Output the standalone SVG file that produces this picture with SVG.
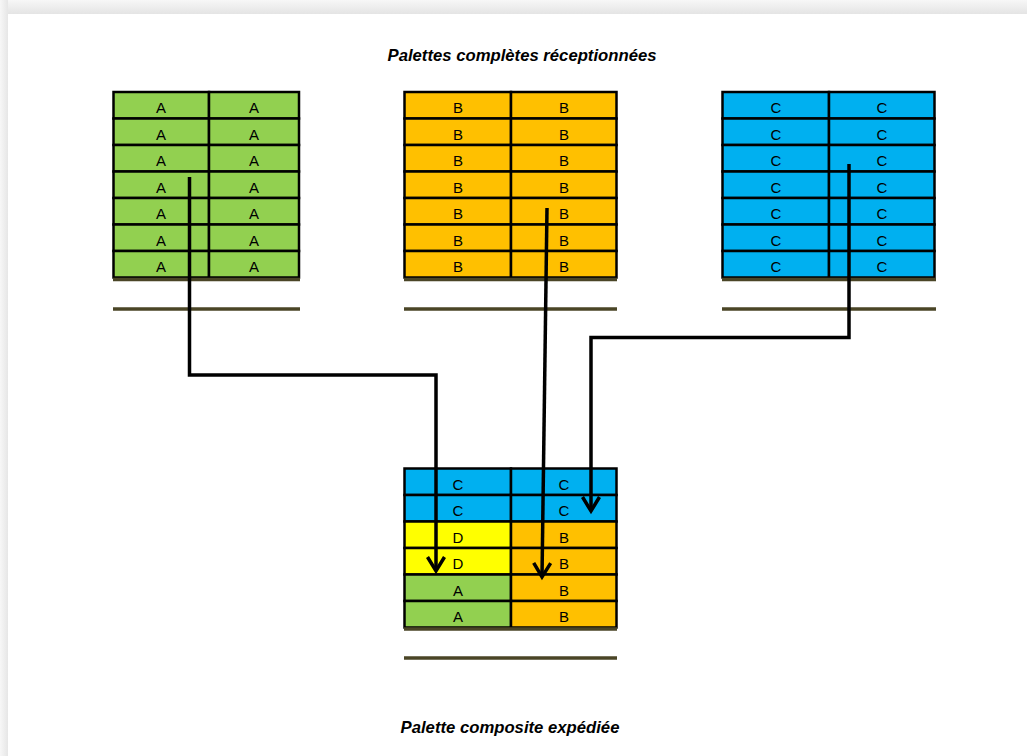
<svg xmlns="http://www.w3.org/2000/svg" width="1027" height="756" viewBox="0 0 1027 756">
<defs>
<linearGradient id="gTop" x1="0" y1="0" x2="0" y2="1"><stop offset="0" stop-color="#f7f7f7"/><stop offset="1" stop-color="#e4e4e4"/></linearGradient>
<linearGradient id="gLeft" x1="0" y1="0" x2="1" y2="0"><stop offset="0" stop-color="#f7f7f7"/><stop offset="1" stop-color="#e6e6e6"/></linearGradient>
<marker id="arr" markerUnits="userSpaceOnUse" markerWidth="20" markerHeight="22" refX="15" refY="10" orient="auto" viewBox="0 0 20 22">
<path d="M1,1.5 L15,10 L1,18.5" fill="none" stroke="#000" stroke-width="3.5" stroke-linejoin="miter"/>
</marker>
<style>
.g{fill:#92D050}.o{fill:#FFC000}.b{fill:#00B0F0}.y{fill:#FFFF00}
.cell{stroke:#000;stroke-width:2.5}
.t{font-family:"Liberation Sans",Arial,sans-serif;font-size:15px;fill:#000;text-anchor:middle}
.title{font-family:"Liberation Sans",Arial,sans-serif;font-size:16.7px;font-weight:bold;font-style:italic;fill:#000;text-anchor:middle}
.base{stroke:#4A4526;stroke-width:3.5}
.conn{fill:none;stroke:#000;stroke-width:3.5;stroke-linejoin:miter}
</style>
</defs>
<rect width="1027" height="756" fill="#ededed"/>
<rect x="0" y="0" width="1027" height="14" fill="url(#gTop)"/>
<rect x="0" y="0" width="8" height="756" fill="url(#gLeft)"/>
<rect x="8" y="14" width="1019" height="742" fill="#fff"/>

<text class="title" x="522" y="61">Palettes complètes réceptionnées</text>
<text class="title" x="510" y="733">Palette composite expédiée</text>

<g id="paletteA">
<g class="cell g">
<rect x="113.5" y="92" width="95.5" height="26.5"/><rect x="209" y="92" width="90" height="26.5"/>
<rect x="113.5" y="118.5" width="95.5" height="26.5"/><rect x="209" y="118.5" width="90" height="26.5"/>
<rect x="113.5" y="145" width="95.5" height="26.5"/><rect x="209" y="145" width="90" height="26.5"/>
<rect x="113.5" y="171.5" width="95.5" height="26.5"/><rect x="209" y="171.5" width="90" height="26.5"/>
<rect x="113.5" y="198" width="95.5" height="26.5"/><rect x="209" y="198" width="90" height="26.5"/>
<rect x="113.5" y="224.5" width="95.5" height="26.5"/><rect x="209" y="224.5" width="90" height="26.5"/>
<rect x="113.5" y="251" width="95.5" height="26.5"/><rect x="209" y="251" width="90" height="26.5"/>
</g>
<g class="t">
<text x="161" y="113">A</text><text x="254" y="113">A</text>
<text x="161" y="139.5">A</text><text x="254" y="139.5">A</text>
<text x="161" y="166">A</text><text x="254" y="166">A</text>
<text x="161" y="192.5">A</text><text x="254" y="192.5">A</text>
<text x="161" y="219">A</text><text x="254" y="219">A</text>
<text x="161" y="245.5">A</text><text x="254" y="245.5">A</text>
<text x="161" y="272">A</text><text x="254" y="272">A</text>
</g>
<line class="base" x1="113" y1="279.5" x2="300" y2="279.5"/>
<line class="base" x1="113" y1="309" x2="300" y2="309"/>
</g>

<g id="paletteB">
<g class="cell o">
<rect x="404.5" y="92" width="106.5" height="26.5"/><rect x="511" y="92" width="105.5" height="26.5"/>
<rect x="404.5" y="118.5" width="106.5" height="26.5"/><rect x="511" y="118.5" width="105.5" height="26.5"/>
<rect x="404.5" y="145" width="106.5" height="26.5"/><rect x="511" y="145" width="105.5" height="26.5"/>
<rect x="404.5" y="171.5" width="106.5" height="26.5"/><rect x="511" y="171.5" width="105.5" height="26.5"/>
<rect x="404.5" y="198" width="106.5" height="26.5"/><rect x="511" y="198" width="105.5" height="26.5"/>
<rect x="404.5" y="224.5" width="106.5" height="26.5"/><rect x="511" y="224.5" width="105.5" height="26.5"/>
<rect x="404.5" y="251" width="106.5" height="26.5"/><rect x="511" y="251" width="105.5" height="26.5"/>
</g>
<g class="t">
<text x="458" y="113">B</text><text x="564" y="113">B</text>
<text x="458" y="139.5">B</text><text x="564" y="139.5">B</text>
<text x="458" y="166">B</text><text x="564" y="166">B</text>
<text x="458" y="192.5">B</text><text x="564" y="192.5">B</text>
<text x="458" y="219">B</text><text x="564" y="219">B</text>
<text x="458" y="245.5">B</text><text x="564" y="245.5">B</text>
<text x="458" y="272">B</text><text x="564" y="272">B</text>
</g>
<line class="base" x1="404" y1="279.5" x2="617" y2="279.5"/>
<line class="base" x1="404" y1="309" x2="617" y2="309"/>
</g>

<g id="paletteC">
<g class="cell b">
<rect x="722.5" y="92" width="106.5" height="26.5"/><rect x="829" y="92" width="105.5" height="26.5"/>
<rect x="722.5" y="118.5" width="106.5" height="26.5"/><rect x="829" y="118.5" width="105.5" height="26.5"/>
<rect x="722.5" y="145" width="106.5" height="26.5"/><rect x="829" y="145" width="105.5" height="26.5"/>
<rect x="722.5" y="171.5" width="106.5" height="26.5"/><rect x="829" y="171.5" width="105.5" height="26.5"/>
<rect x="722.5" y="198" width="106.5" height="26.5"/><rect x="829" y="198" width="105.5" height="26.5"/>
<rect x="722.5" y="224.5" width="106.5" height="26.5"/><rect x="829" y="224.5" width="105.5" height="26.5"/>
<rect x="722.5" y="251" width="106.5" height="26.5"/><rect x="829" y="251" width="105.5" height="26.5"/>
</g>
<g class="t">
<text x="776" y="113">C</text><text x="882" y="113">C</text>
<text x="776" y="139.5">C</text><text x="882" y="139.5">C</text>
<text x="776" y="166">C</text><text x="882" y="166">C</text>
<text x="776" y="192.5">C</text><text x="882" y="192.5">C</text>
<text x="776" y="219">C</text><text x="882" y="219">C</text>
<text x="776" y="245.5">C</text><text x="882" y="245.5">C</text>
<text x="776" y="272">C</text><text x="882" y="272">C</text>
</g>
<line class="base" x1="722" y1="279.5" x2="936" y2="279.5"/>
<line class="base" x1="722" y1="309" x2="936" y2="309"/>
</g>

<g id="paletteComposite">
<g class="cell">
<rect class="b" x="404.5" y="468.5" width="106.5" height="26.5"/><rect class="b" x="511" y="468.5" width="105.5" height="26.5"/>
<rect class="b" x="404.5" y="495" width="106.5" height="26.5"/><rect class="b" x="511" y="495" width="105.5" height="26.5"/>
<rect class="y" x="404.5" y="521.5" width="106.5" height="26.5"/><rect class="o" x="511" y="521.5" width="105.5" height="26.5"/>
<rect class="y" x="404.5" y="548" width="106.5" height="26.5"/><rect class="o" x="511" y="548" width="105.5" height="26.5"/>
<rect class="g" x="404.5" y="574.5" width="106.5" height="26.5"/><rect class="o" x="511" y="574.5" width="105.5" height="26.5"/>
<rect class="g" x="404.5" y="601" width="106.5" height="26.5"/><rect class="o" x="511" y="601" width="105.5" height="26.5"/>
</g>
<g class="t">
<text x="458" y="489.5">C</text><text x="564" y="489.5">C</text>
<text x="458" y="516">C</text><text x="564" y="516">C</text>
<text x="458" y="542.5">D</text><text x="564" y="542.5">B</text>
<text x="458" y="569">D</text><text x="564" y="569">B</text>
<text x="458" y="595.5">A</text><text x="564" y="595.5">B</text>
<text x="458" y="622">A</text><text x="564" y="622">B</text>
</g>
<line class="base" x1="404" y1="629" x2="617" y2="629"/>
<line class="base" x1="404" y1="658" x2="617" y2="658"/>
</g>

<g id="connectors">
<path class="conn" d="M189.5,177 L189.5,375 L436,375 L436,571" marker-end="url(#arr)"/>
<path class="conn" d="M547,208 L542,577" marker-end="url(#arr)"/>
<path class="conn" d="M849,164 L849,337.5 L591,337.5 L591,511" marker-end="url(#arr)"/>
</g>
</svg>
